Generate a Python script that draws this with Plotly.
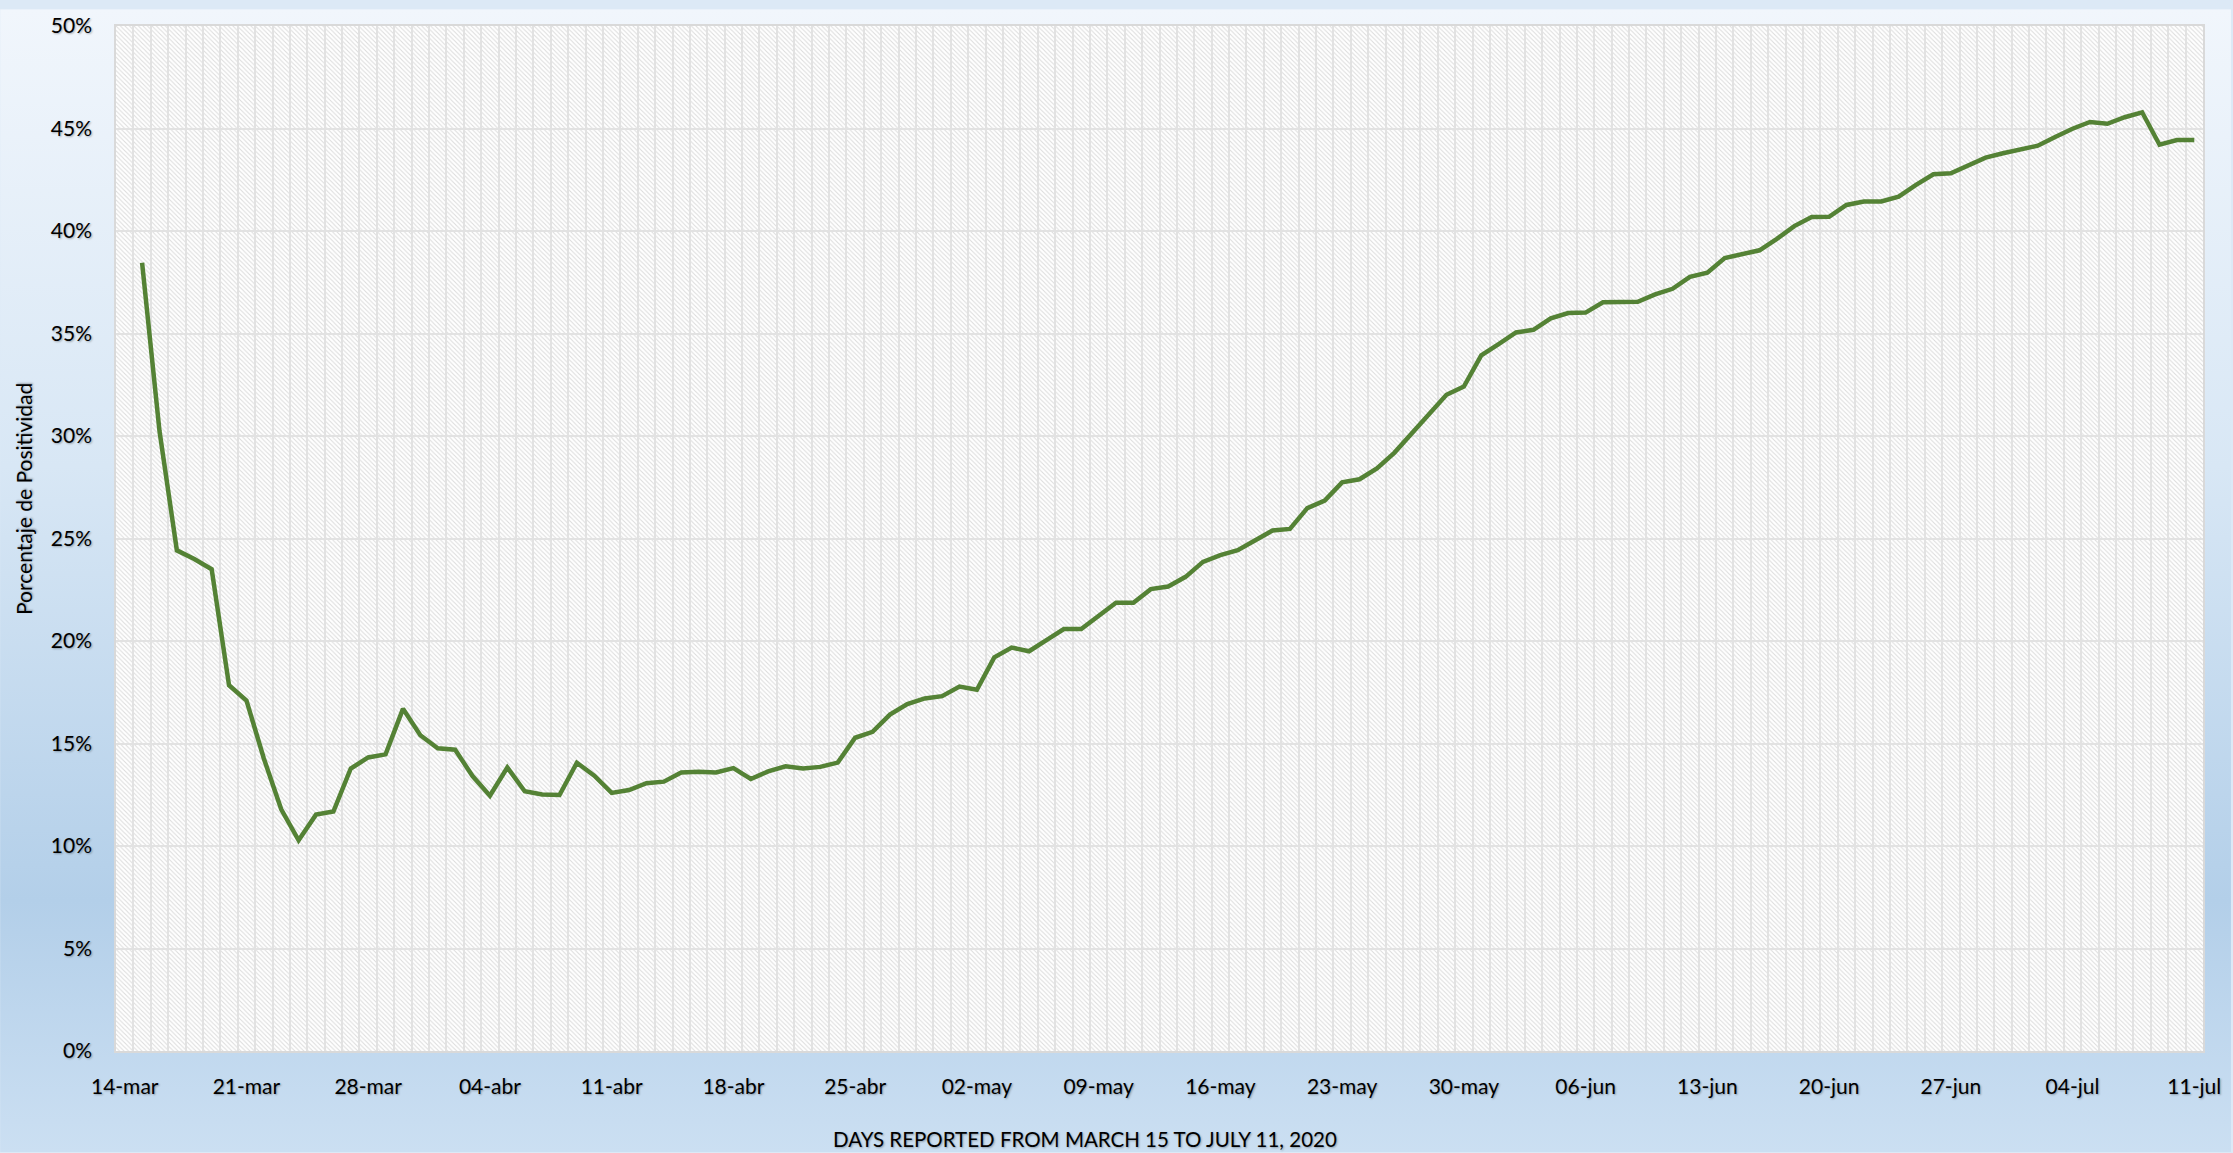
import base64
import pandas as pd
import plotly.graph_objects as go

# ---------------- data ----------------
start_date = "2020-03-15"
end_date = "2020-07-11"
positivity_pct = [
    38.45, 30.25, 24.42, 24.0, 23.5, 17.84, 17.1, 14.27, 11.79, 10.28, 11.53, 11.68, 13.78, 14.32,
    14.47, 16.69, 15.40, 14.77, 14.70, 13.41, 12.45,
    13.83, 12.67, 12.51, 12.49, 14.06, 13.43, 12.59, 12.73, 13.06, 13.14, 13.59, 13.62, 13.59,
    13.80, 13.27, 13.64, 13.89, 13.78, 13.86,
    14.07, 15.28, 15.57, 16.41, 16.92, 17.20, 17.31, 17.78, 17.62, 19.20, 19.68, 19.50, 20.04,
    20.58, 20.58, 21.24, 21.87, 21.87, 22.53, 22.66,
    23.13, 23.86, 24.19, 24.43, 24.90, 25.39, 25.47, 26.48, 26.85, 27.74, 27.89, 28.42, 29.18,
    30.14, 31.03, 32.01, 32.41, 33.93, 34.48,
    35.05, 35.18, 35.74, 36.00, 36.02, 36.52, 36.52, 36.55, 36.91, 37.18, 37.76, 37.97, 38.68,
    38.88, 39.06, 39.62, 40.24, 40.68, 40.69, 41.27,
    41.44, 41.44, 41.68, 42.25, 42.77, 42.82, 43.22, 43.58, 43.79, 43.97, 44.16, 44.59, 44.99,
    45.32, 45.23, 45.55, 45.79, 44.21, 44.44, 44.44,
]
tick_dates = pd.date_range("2020-03-14", "2020-07-11", freq="7D")
tick_labels = ["14-mar", "21-mar", "28-mar", "04-abr", "11-abr", "18-abr", "25-abr", "02-may",
               "09-may", "16-may", "23-may", "30-may", "06-jun", "13-jun", "20-jun", "27-jun",
               "04-jul", "11-jul"]
x_title = "DAYS REPORTED FROM MARCH 15 TO JULY 11, 2020"
y_title = "Porcentaje de Positividad"

dates = pd.date_range(start_date, end_date, freq="D")
values = [v / 100 for v in positivity_pct]

# ---------------- layout geometry ----------------
W, H = 2233, 1153
ML, MR, MT, MB = 116, 28, 17, 102
PW, PH = W - ML - MR, H - MT - MB

FONT = "Lato, 'Open Sans', sans-serif"
SHADOW = "1px 1px 2px rgba(0,0,0,0.30)"

def svg_uri(svg):
    return "data:image/svg+xml;base64," + base64.b64encode(svg.encode("utf-8")).decode("ascii")

grad_svg = f"""<svg xmlns='http://www.w3.org/2000/svg' width='{W}' height='{H}' viewBox='0 0 {W} {H}' preserveAspectRatio='none'>
<defs><linearGradient id='g' x1='0' y1='0' x2='0' y2='1'>
<stop offset='0' stop-color='#f1f6fc'/>
<stop offset='0.40' stop-color='#d8e7f5'/>
<stop offset='0.78' stop-color='#b3cfe9'/>
<stop offset='1' stop-color='#cbdff2'/>
</linearGradient></defs>
<rect x='0' y='0' width='{W}' height='{H}' fill='url(#g)'/></svg>"""

hatch_svg = f"""<svg xmlns='http://www.w3.org/2000/svg' width='{PW}' height='{PH}' viewBox='0 0 {PW} {PH}' preserveAspectRatio='none'>
<defs><pattern id='p' patternUnits='userSpaceOnUse' width='4.5' height='4.5'>
<rect width='4.5' height='4.5' fill='#ffffff'/>
<path d='M0,0 L4.5,4.5 M-1,3.5 L1,5.5 M3.5,-1 L5.5,1' stroke='#dcdcdc' stroke-width='1'/>
</pattern></defs>
<rect x='0' y='0' width='{PW}' height='{PH}' fill='url(#p)'/></svg>"""

fig = go.Figure()
fig.add_trace(go.Scatter(
    x=dates, y=values, mode="lines",
    line=dict(color="#548235", width=4.5),
    hoverinfo="x+y", showlegend=False,
))

fig.update_layout(
    width=W, height=H,
    margin=dict(l=ML, r=MR, t=MT, b=MB, pad=0),
    paper_bgcolor="#dce9f6",
    plot_bgcolor="#ffffff",
    font=dict(family=FONT, size=20, color="#000000"),
    showlegend=False,
    images=[
        dict(source=svg_uri(grad_svg), xref="paper", yref="paper",
             x=-ML / PW, y=1 + MT / PH, sizex=W / PW, sizey=H / PH,
             xanchor="left", yanchor="top", sizing="stretch", layer="below"),
        dict(source=svg_uri(hatch_svg), xref="paper", yref="paper",
             x=0, y=1, sizex=1, sizey=1,
             xanchor="left", yanchor="top", sizing="stretch", layer="below"),
    ],
    annotations=[
        dict(text=x_title, xref="paper", yref="paper", x=(1086 - ML) / PW, y=0,
             yshift=-(1139 - (H - MB)), xanchor="center", yanchor="middle", showarrow=False,
             font=dict(family=FONT, size=20.5, color="#000000", shadow=SHADOW)),
        dict(text=y_title, xref="paper", yref="paper", x=(24 - ML) / PW,
             y=((H - MB) - 494) / PH, textangle=-90, xanchor="center", yanchor="middle",
             showarrow=False, font=dict(family=FONT, size=21, color="#000000", shadow=SHADOW)),
    ],
)

fig.update_xaxes(
    type="date",
    range=["2020-03-13 12:00", "2020-07-11 12:00"],
    tickmode="array", tickvals=tick_dates, ticktext=tick_labels,
    showgrid=False, ticks="", zeroline=False,
    showline=True, linecolor="#d9d9d9", linewidth=1.5, mirror=True,
    ticklabelstandoff=16,
    tickfont=dict(family=FONT, size=21, color="#000000", shadow=SHADOW),
    minor=dict(showgrid=True, gridcolor="#e2e2e2", gridwidth=1.6,
               tick0="2020-03-13 12:00", dtick=86400000),
)
fig.update_yaxes(
    range=[0, 0.5], dtick=0.05, tick0=0, tickformat=".0%",
    showgrid=True, gridcolor="#e2e2e2", gridwidth=1.6, zeroline=False,
    showline=True, linecolor="#d9d9d9", linewidth=1.5, mirror=True,
    ticks="", ticklabelstandoff=18,
    tickfont=dict(family=FONT, size=21, color="#000000", shadow=SHADOW),
)

fig.write_html("out.html",
               config={"displayModeBar": False},
               post_script="document.body.style.margin='0';document.body.style.overflow='hidden';")
